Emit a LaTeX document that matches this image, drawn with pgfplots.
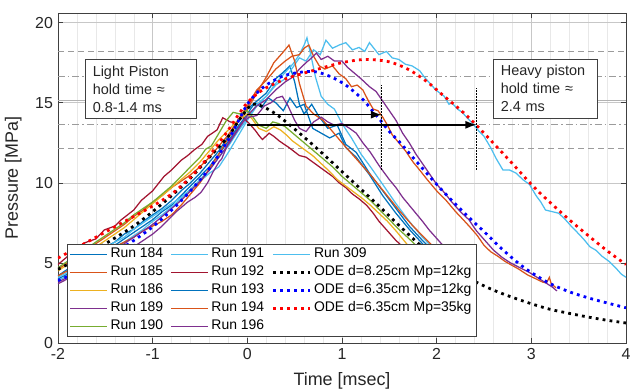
\documentclass[border=0pt]{standalone}
\usepackage{fontspec}
\setmainfont{Liberation Sans}
\usepackage{pgfplots}
\pgfplotsset{compat=1.18}
\usetikzlibrary{arrows.meta}
\definecolor{mBlue}{RGB}{0,114,189}
\definecolor{mOrange}{RGB}{217,83,25}
\definecolor{mYellow}{RGB}{237,177,32}
\definecolor{mPurple}{RGB}{126,47,142}
\definecolor{mGreen}{RGB}{119,172,48}
\definecolor{mLight}{RGB}{77,190,238}
\definecolor{mRed}{RGB}{162,20,47}
\definecolor{refgray}{RGB}{155,155,155}
\tikzset{run/.style={line width=1.25bp}, ode/.style={line width=2.8bp, dash pattern=on 2.8bp off 4.2bp}}
\begin{document}
\begin{tikzpicture}
\begin{axis}[
  scale only axis, width=568bp, height=330bp,
  xmin=-2, xmax=4, ymin=0, ymax=20.6,
  xtick={-2,-1,0,1,2,3,4}, ytick={0,5,10,15,20},
  minor x tick num=4,
  xmajorgrids, ymajorgrids, xminorgrids,
  major grid style={draw=black!22, line width=0.5bp},
  minor grid style={draw=black!9, line width=0.4bp},
  tick align=inside, tick pos=both, major tick length=5bp, minor tick length=0bp,
  axis line style={draw=black!75, line width=0.6bp},
  every tick/.style={draw=black!75, line width=0.6bp},
  /pgf/number format/assume math mode=true,
  ticklabel style={font=\fontsize{16}{19}\selectfont, text=black!85},
  xticklabel style={yshift=-2bp},
  yticklabel style={xshift=-1.5bp},
  xlabel={Time [msec]}, ylabel={Pressure [MPa]},
  label style={font=\fontsize{18}{21}\selectfont, text=black!85},
  xlabel style={at={(axis description cs:0.5,-0.115)}, anchor=center},
  ylabel style={at={(axis description cs:-0.079,0.5)}, anchor=center},
  legend style={at={(axis cs:-1.9,6.19)}, anchor=north west, legend columns=3,
    font=\fontsize{14}{16}\selectfont, draw=black!75, fill=white, line width=0.6bp,
    inner xsep=2bp, inner ysep=1bp,
    nodes={text height=10bp, text depth=3bp, inner ysep=2.5bp, inner xsep=2.5bp},
    /tikz/every even column/.append style={column sep=5bp}},
  legend cell align=left,
  legend image code/.code={\draw[#1] (0bp,0bp) -- (37bp,0bp);},
]
% reference lines
\addplot[forget plot, black!30, line width=1.4bp] coordinates {(-2,15.15) (4,15.15)};
\addplot[forget plot, refgray, line width=0.8bp, dash pattern=on 6bp off 4bp] coordinates {(-2,18.18) (4,18.18)};
\addplot[forget plot, refgray, line width=0.8bp, dash pattern=on 6bp off 4bp] coordinates {(-2,12.12) (4,12.12)};
\addplot[forget plot, refgray, line width=0.8bp, dash pattern=on 7bp off 3bp on 1.5bp off 3bp] coordinates {(-2,16.67) (4,16.67)};
\addplot[forget plot, refgray, line width=0.8bp, dash pattern=on 7bp off 3bp on 1.5bp off 3bp] coordinates {(-2,13.64) (4,13.64)};
% Run 184
\addplot[forget plot, run, mBlue] coordinates {(-2,4.2) (-1.9,4.6) (-1.8,4.9) (-1.7,5.3) (-1.6,5.6) (-1.5,6.0) (-1.4,6.3) (-1.3,6.8) (-1.2,7.1) (-1.1,7.6) (-1.0,8.0) (-0.9,8.4) (-0.8,8.9) (-0.7,9.5) (-0.6,10.0) (-0.5,10.6) (-0.4,11.3) (-0.3,12.0) (-0.2,12.9) (-0.1,13.8) (0,14.6) (0.1,15.1) (0.2,15.6) (0.3,16.5) (0.38,16.9) (0.45,17.3) (0.5,16.3) (0.55,14.9) (0.6,14.3) (0.68,14.9) (0.75,14.2) (0.85,13.4) (0.95,13.6) (1.04,12.4) (1.15,11.9) (1.29,10.6) (1.43,9.5) (1.57,8.4) (1.71,7.3) (1.85,6.4) (2.0,5.5) (2.15,4.7) (2.3,4.0)};
% Run 193
\addplot[forget plot, run, mBlue] coordinates {(-2,4.0) (-1.9,4.3) (-1.8,4.7) (-1.7,5.0) (-1.6,5.4) (-1.5,5.7) (-1.4,6.1) (-1.3,6.5) (-1.2,6.9) (-1.1,7.3) (-1.0,7.7) (-0.9,8.2) (-0.8,8.6) (-0.7,9.2) (-0.6,9.8) (-0.5,10.4) (-0.4,11.0) (-0.3,11.8) (-0.2,12.6) (-0.1,13.5) (0,14.3) (0.08,15.0) (0.15,14.7) (0.22,15.3) (0.3,15.0) (0.38,14.5) (0.45,15.3) (0.52,14.7) (0.6,14.9) (0.69,13.4) (0.78,13.1) (0.87,12.8) (0.97,13.1) (1.04,12.2) (1.15,11.6) (1.29,10.5) (1.43,9.2) (1.57,8.1) (1.71,7.1) (1.85,6.2) (2.0,5.3) (2.15,4.5) (2.3,3.9)};
% Run 191
\addplot[forget plot, run, mLight] coordinates {(-2,4.1) (-1.9,4.4) (-1.8,4.8) (-1.7,5.2) (-1.6,5.5) (-1.5,5.9) (-1.4,6.3) (-1.3,6.6) (-1.2,7.1) (-1.1,7.5) (-1.0,7.9) (-0.9,8.3) (-0.8,8.7) (-0.7,9.1) (-0.6,9.6) (-0.5,10.2) (-0.4,10.8) (-0.3,11.6) (-0.2,12.3) (-0.1,13.2) (0,14.0) (0.1,14.9) (0.2,15.4) (0.3,16.2) (0.4,16.9) (0.48,17.4) (0.55,18.0) (0.6,18.6) (0.63,19.05) (0.67,18.0) (0.72,16.6) (0.78,15.4) (0.85,14.9) (0.92,14.6) (1.0,13.7) (1.1,12.8) (1.2,11.8) (1.3,11.0) (1.43,9.9) (1.57,8.7) (1.71,7.6) (1.85,6.6) (2.0,5.7) (2.15,4.9) (2.3,4.2)};
% Run 309
\addplot[forget plot, run, mLight] coordinates {(-2,3.9) (-1.9,4.2) (-1.8,4.5) (-1.7,4.9) (-1.6,5.2) (-1.5,5.6) (-1.4,6.0) (-1.3,6.3) (-1.2,6.7) (-1.1,7.1) (-1.0,7.6) (-0.9,8.0) (-0.8,8.5) (-0.7,9.0) (-0.6,9.6) (-0.5,10.1) (-0.4,10.6) (-0.3,11.0) (-0.2,11.9) (-0.1,12.9) (0,13.9) (0.1,14.8) (0.2,15.4) (0.3,16.1) (0.4,16.5) (0.48,17.2) (0.55,17.8) (0.62,17.6) (0.7,18.3) (0.77,18.0) (0.83,18.9) (0.9,18.4) (0.97,18.6) (1.04,18.75) (1.11,18.3) (1.18,18.45) (1.24,18.2) (1.29,18.75) (1.35,18.3) (1.39,18.0) (1.47,18.2) (1.53,17.8) (1.6,17.7) (1.67,17.4) (1.74,17.3) (1.82,17.0) (1.87,16.6) (1.93,16.2) (1.99,15.8) (2.08,15.4) (2.13,14.9) (2.16,15.0) (2.22,14.6) (2.27,14.4) (2.33,14.0) (2.38,13.7) (2.45,13.2) (2.5,12.9) (2.57,12.2) (2.63,11.5) (2.7,10.8) (2.77,10.8) (2.84,10.6) (2.91,10.2) (2.98,9.9) (3.05,9.2) (3.1,8.8) (3.15,8.3) (3.22,8.2) (3.29,8.1) (3.36,7.7) (3.42,7.3) (3.47,7.0) (3.55,6.5) (3.62,6.0) (3.68,5.8) (3.75,5.4) (3.82,5.1) (3.89,4.7) (3.95,4.3) (4.0,4.1)};
% Run 185
\addplot[forget plot, run, mOrange] coordinates {(-2,4.2) (-1.9,4.5) (-1.8,4.8) (-1.7,5.1) (-1.6,5.4) (-1.5,5.7) (-1.4,6.0) (-1.3,6.3) (-1.2,6.6) (-1.1,7.0) (-1.0,7.3) (-0.9,7.6) (-0.8,8.0) (-0.7,8.6) (-0.6,9.3) (-0.5,10.0) (-0.4,10.9) (-0.3,11.8) (-0.2,12.8) (-0.1,13.8) (0,14.6) (0.1,15.6) (0.2,16.6) (0.28,17.5) (0.37,18.1) (0.44,18.6) (0.5,17.6) (0.55,16.2) (0.62,14.8) (0.7,14.3) (0.8,13.9) (0.9,13.2) (1.0,12.5) (1.15,11.5) (1.3,10.5) (1.45,9.4) (1.6,8.3) (1.75,7.3) (1.9,6.4) (2.05,5.5) (2.2,4.7) (2.35,4.0)};
% Run 194
\addplot[forget plot, run, mOrange] coordinates {(-2,4.6) (-1.9,5.0) (-1.8,5.4) (-1.7,5.8) (-1.6,6.2) (-1.5,6.6) (-1.4,7.0) (-1.3,7.4) (-1.2,7.9) (-1.1,8.3) (-1.0,8.8) (-0.9,9.2) (-0.8,9.7) (-0.7,10.1) (-0.6,10.5) (-0.5,11.0) (-0.4,11.6) (-0.3,12.3) (-0.2,13.0) (-0.1,13.9) (0,14.8) (0.1,15.8) (0.2,16.4) (0.3,17.1) (0.4,17.6) (0.47,17.9) (0.55,18.0) (0.6,18.4) (0.65,18.6) (0.7,17.9) (0.76,17.3) (0.82,17.1) (0.9,17.3) (0.97,16.8) (1.04,16.5) (1.1,16.0) (1.16,16.1) (1.22,15.8) (1.28,15.1) (1.33,14.6) (1.38,14.5) (1.43,14.1) (1.48,13.6) (1.53,13.0) (1.6,12.5) (1.67,12.0) (1.75,11.3) (1.82,10.8) (1.9,10.2) (2.0,9.5) (2.1,8.9) (2.2,8.2) (2.28,7.7) (2.35,7.25) (2.43,6.7) (2.5,6.1) (2.57,5.7) (2.65,5.4) (2.72,5.1) (2.78,4.9) (2.87,4.6) (2.96,4.25) (3.05,4.0) (3.12,3.8) (3.16,3.75) (3.19,4.1) (3.21,3.7) (3.26,3.45)};
% Run 192
\addplot[forget plot, run, mRed] coordinates {(-2,4.9) (-1.9,5.4) (-1.8,5.9) (-1.72,6.25) (-1.6,6.5) (-1.51,7.06) (-1.4,7.3) (-1.33,7.7) (-1.2,8.3) (-1.12,8.9) (-1.0,9.5) (-0.88,10.4) (-0.8,10.8) (-0.7,11.4) (-0.63,11.7) (-0.56,12.06) (-0.48,12.4) (-0.42,12.9) (-0.32,13.3) (-0.26,14.06) (-0.18,13.8) (-0.12,13.75) (-0.05,14.1) (0.02,13.7) (0.08,13.3) (0.13,12.9) (0.16,12.7) (0.23,13.1) (0.28,12.9) (0.34,12.6) (0.44,12.2) (0.55,11.7) (0.62,11.6) (0.69,11.3) (0.76,11.0) (0.83,10.7) (0.9,10.4) (0.97,10.0) (1.04,9.7) (1.11,9.3) (1.18,9.0) (1.26,8.6) (1.33,8.1) (1.39,7.6) (1.48,7.0) (1.57,6.4) (1.7,5.7) (1.85,4.9) (2.0,4.1)};
% Run 186
\addplot[forget plot, run, mYellow] coordinates {(-2,4.5) (-1.9,4.9) (-1.8,5.2) (-1.7,5.6) (-1.6,6.0) (-1.5,6.4) (-1.4,6.8) (-1.3,7.2) (-1.2,7.7) (-1.1,8.2) (-1.0,8.7) (-0.9,9.2) (-0.8,9.7) (-0.7,10.2) (-0.6,10.7) (-0.5,11.3) (-0.4,12.0) (-0.3,12.7) (-0.2,13.3) (-0.1,13.9) (0,14.3) (0.05,14.0) (0.12,13.4) (0.2,13.2) (0.28,13.5) (0.35,13.3) (0.41,13.0) (0.48,12.6) (0.55,12.3) (0.62,12.0) (0.69,11.7) (0.78,11.2) (0.87,10.7) (0.95,10.2) (1.04,9.8) (1.13,9.4) (1.22,9.0) (1.3,8.6) (1.39,8.1) (1.48,7.6) (1.57,7.0) (1.64,6.5) (1.71,6.0) (1.85,5.2) (2.0,4.5)};
% Run 190
\addplot[forget plot, run, mGreen] coordinates {(-2,4.7) (-1.9,5.1) (-1.8,5.5) (-1.7,5.9) (-1.6,6.3) (-1.5,6.7) (-1.4,7.1) (-1.3,7.5) (-1.2,8.0) (-1.1,8.4) (-1.0,8.8) (-0.9,9.3) (-0.8,9.8) (-0.7,10.4) (-0.6,11.0) (-0.5,11.6) (-0.44,12.1) (-0.38,12.3) (-0.3,13.1) (-0.22,13.9) (-0.15,14.4) (-0.08,14.3) (0,14.5) (0.06,14.1) (0.12,13.6) (0.2,13.4) (0.27,13.8) (0.33,13.7) (0.4,13.5) (0.5,13.0) (0.6,12.5) (0.7,12.0) (0.8,11.5) (0.9,11.0) (1.0,10.4) (1.1,9.9) (1.2,9.4) (1.3,8.9) (1.4,8.3) (1.5,7.7) (1.6,7.1) (1.71,6.5) (1.85,5.7) (2.0,5.0)};
% Run 189
\addplot[forget plot, run, mPurple] coordinates {(-2,3.7) (-1.9,4.0) (-1.8,4.2) (-1.7,4.5) (-1.6,4.8) (-1.5,5.1) (-1.4,5.4) (-1.3,5.7) (-1.2,6.0) (-1.1,6.4) (-1.0,6.8) (-0.92,7.2) (-0.85,7.6) (-0.75,8.2) (-0.63,8.8) (-0.55,9.1) (-0.49,9.4) (-0.42,10.0) (-0.36,10.7) (-0.3,11.3) (-0.27,11.5) (-0.2,12.5) (-0.12,13.2) (-0.05,13.8) (0.02,14.1) (0.1,14.2) (0.18,14.8) (0.25,15.0) (0.31,15.3) (0.37,15.4) (0.43,14.8) (0.5,13.9) (0.55,13.4) (0.62,13.2) (0.7,13.8) (0.78,14.1) (0.85,13.8) (0.92,13.6) (1.0,13.7) (1.08,13.4) (1.15,13.1) (1.22,12.5) (1.3,11.9) (1.4,11.0) (1.5,10.2) (1.57,9.7) (1.64,9.1) (1.71,8.6) (1.78,8.1) (1.85,7.6) (1.92,7.06) (2.05,6.2) (2.2,5.3) (2.35,4.5)};
% Run 196
\addplot[forget plot, run, mPurple] coordinates {(-2,3.8) (-1.9,4.1) (-1.8,4.4) (-1.7,4.7) (-1.6,5.0) (-1.5,5.4) (-1.4,5.8) (-1.3,6.2) (-1.2,6.6) (-1.1,7.0) (-1.0,7.4) (-0.9,7.9) (-0.8,8.4) (-0.7,8.9) (-0.6,9.5) (-0.5,10.1) (-0.4,10.8) (-0.3,11.6) (-0.2,12.4) (-0.1,13.3) (0,14.2) (0.1,14.8) (0.2,15.2) (0.3,15.8) (0.4,16.3) (0.48,16.6) (0.55,17.1) (0.62,17.5) (0.68,17.8) (0.73,18.1) (0.78,17.7) (0.85,17.9) (0.92,17.6) (1.0,17.6) (1.06,17.2) (1.12,16.9) (1.2,16.5) (1.29,16.0) (1.36,15.7) (1.43,15.1) (1.5,14.5) (1.57,13.9) (1.64,13.1) (1.71,12.5) (1.78,11.8) (1.85,11.2) (1.92,10.6) (2.0,9.9) (2.08,9.4) (2.16,8.8) (2.25,8.2) (2.34,7.7) (2.42,7.0) (2.51,6.4) (2.6,5.8) (2.69,5.35) (2.78,5.0) (2.88,4.7) (2.98,4.4) (3.1,3.95) (3.22,3.5) (3.27,3.25)};
% ODE curves
\addplot[forget plot, ode, black, smooth] coordinates {(-2,4.6) (-1.8,5.2) (-1.6,5.85) (-1.4,6.55) (-1.2,7.3) (-1.0,8.2) (-0.8,9.2) (-0.6,10.3) (-0.4,11.6) (-0.2,12.9) (-0.1,13.8) (0,14.6) (0.05,14.9) (0.15,14.8) (0.3,14.3) (0.45,13.6) (0.6,12.85) (0.8,11.8) (1.0,10.7) (1.2,9.6) (1.4,8.5) (1.6,7.35) (1.8,6.25) (2.0,5.3) (2.2,4.5) (2.4,3.85) (2.6,3.3) (2.8,2.85) (3.0,2.45) (3.2,2.1) (3.4,1.85) (3.6,1.62) (3.8,1.42) (4.0,1.25)};
\addplot[forget plot, ode, blue, smooth] coordinates {(-2,3.9) (-1.8,4.4) (-1.6,5.0) (-1.4,5.65) (-1.2,6.4) (-1.0,7.25) (-0.8,8.3) (-0.6,9.5) (-0.4,10.9) (-0.2,12.7) (-0.1,13.8) (0,14.9) (0.1,15.6) (0.2,16.1) (0.35,16.6) (0.5,16.85) (0.7,16.95) (0.87,16.65) (1.04,16.1) (1.22,15.2) (1.32,14.5) (1.42,13.8) (1.5,13.2) (1.6,12.6) (1.71,11.85) (1.85,10.9) (2.0,9.9) (2.16,8.9) (2.33,7.9) (2.51,6.9) (2.63,6.2) (2.75,5.55) (2.87,4.95) (3.0,4.4) (3.2,3.7) (3.4,3.2) (3.6,2.82) (3.8,2.5) (4.0,2.2)};
\addplot[forget plot, ode, red, smooth] coordinates {(-2,5.3) (-1.8,5.95) (-1.6,6.6) (-1.4,7.25) (-1.2,7.9) (-1.0,8.55) (-0.8,9.3) (-0.6,10.35) (-0.4,11.7) (-0.2,13.3) (-0.1,14.2) (0,15.0) (0.16,15.8) (0.41,16.5) (0.69,17.0) (1.0,17.5) (1.25,17.7) (1.5,17.55) (1.71,17.05) (1.9,16.3) (2.06,15.5) (2.27,14.45) (2.42,13.6) (2.5,13.1) (2.8,11.2) (3.05,9.6) (3.4,7.7) (3.77,5.9) (4.0,4.9)};
% hold-time markers
\addplot[forget plot, black, line width=1bp, dash pattern=on 1.5bp off 1.5bp] coordinates {(1.42,10.8) (1.42,16.1)};
\addplot[forget plot, black, line width=1bp, dash pattern=on 1.5bp off 1.5bp] coordinates {(2.42,10.8) (2.42,15.9)};
\addplot[forget plot, black, line width=1.4bp, -{Latex[length=11bp,width=8bp]}] coordinates {(0,14.25) (1.42,14.25)};
\addplot[forget plot, black, line width=1.4bp, -{Latex[length=11bp,width=8bp]}] coordinates {(0,13.62) (2.42,13.62)};
\node[draw=black!75, fill=white, line width=0.6bp, anchor=north west, align=left, text width=97bp, inner xsep=7bp, inner ysep=5bp, minimum height=59bp, font=\fontsize{14.5}{18}\selectfont, text=black!85] at (axis cs:-1.71,17.7) {Light Piston\\hold time ≈\\0.8-1.4 ms};
\node[draw=black!75, fill=white, line width=0.6bp, anchor=north west, align=left, text width=88bp, inner xsep=8bp, inner ysep=5bp, minimum height=59bp, font=\fontsize{14.5}{18}\selectfont, text=black!85] at (axis cs:2.59,17.75) {Heavy piston\\hold time ≈\\2.4 ms};
% legend entries
\addlegendimage{run, mBlue}\addlegendentry{Run 184}
\addlegendimage{run, mLight}\addlegendentry{Run 191}
\addlegendimage{run, mLight}\addlegendentry{Run 309}
\addlegendimage{run, mOrange}\addlegendentry{Run 185}
\addlegendimage{run, mRed}\addlegendentry{Run 192}
\addlegendimage{ode, black}\addlegendentry{ODE d=8.25cm Mp=12kg}
\addlegendimage{run, mYellow}\addlegendentry{Run 186}
\addlegendimage{run, mBlue}\addlegendentry{Run 193}
\addlegendimage{ode, blue}\addlegendentry{ODE d=6.35cm Mp=12kg}
\addlegendimage{run, mPurple}\addlegendentry{Run 189}
\addlegendimage{run, mOrange}\addlegendentry{Run 194}
\addlegendimage{ode, red}\addlegendentry{ODE d=6.35cm Mp=35kg}
\addlegendimage{run, mGreen}\addlegendentry{Run 190}
\addlegendimage{run, mPurple}\addlegendentry{Run 196}
\end{axis}
\pgfresetboundingbox
\path ([xshift=-58bp,yshift=-49bp]current axis.south west) rectangle ([xshift=4bp,yshift=13bp]current axis.north east);
\end{tikzpicture}
\end{document}
